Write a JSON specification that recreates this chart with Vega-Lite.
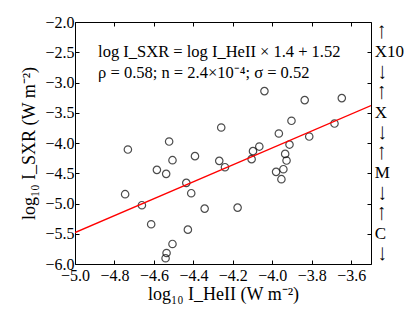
{
  "$schema": "https://vega.github.io/schema/vega-lite/v6.json",
  "width": 296,
  "height": 242,
  "autosize": {"type": "none"},
  "padding": {"left": 75, "top": 22, "right": 44, "bottom": 55},
  "background": "white",
  "config": {
    "view": {"stroke": "black", "strokeWidth": 1},
    "font": "Liberation Serif",
    "axis": {
      "domain": false,
      "grid": false,
      "tickColor": "black",
      "tickSize": -4,
      "tickWidth": 1,
      "labelOverlap": false,
      "labelFlush": false,
      "labelFont": "Liberation Serif",
      "labelFontSize": 16,
      "labelColor": "black",
      "titleFont": "Liberation Serif",
      "titleFontSize": 18,
      "titleFontWeight": "normal",
      "titleColor": "black"
    }
  },
  "datasets": {
    "pts": [
      {"x": -4.732, "y": -4.108}, {"x": -4.523, "y": -3.976}, {"x": -4.259, "y": -3.744},
      {"x": -4.506, "y": -4.284}, {"x": -4.392, "y": -4.217}, {"x": -4.269, "y": -4.295},
      {"x": -4.585, "y": -4.444}, {"x": -4.538, "y": -4.510}, {"x": -4.436, "y": -4.659},
      {"x": -4.746, "y": -4.846}, {"x": -4.411, "y": -4.830}, {"x": -4.661, "y": -5.028},
      {"x": -4.343, "y": -5.084}, {"x": -4.614, "y": -5.343}, {"x": -4.428, "y": -5.432},
      {"x": -4.506, "y": -5.669}, {"x": -4.536, "y": -5.818}, {"x": -4.541, "y": -5.905},
      {"x": -4.040, "y": -3.142}, {"x": -3.836, "y": -3.291}, {"x": -3.648, "y": -3.258},
      {"x": -3.903, "y": -3.633}, {"x": -3.967, "y": -3.843}, {"x": -3.685, "y": -3.678},
      {"x": -3.813, "y": -3.893}, {"x": -3.913, "y": -4.026}, {"x": -4.066, "y": -4.059},
      {"x": -4.098, "y": -4.135}, {"x": -3.935, "y": -4.180}, {"x": -3.928, "y": -4.290},
      {"x": -4.105, "y": -4.267}, {"x": -4.240, "y": -4.400}, {"x": -3.944, "y": -4.433},
      {"x": -3.981, "y": -4.477}, {"x": -3.954, "y": -4.598}, {"x": -4.176, "y": -5.068}
    ],
    "fit": [{"x": -5.0, "y": -5.48}, {"x": -3.5, "y": -3.38}],
    "classes": [
      {"cls": "X10", "y": -2.5}, {"cls": "X", "y": -3.5},
      {"cls": "M", "y": -4.5}, {"cls": "C", "y": -5.5}
    ]
  },
  "layer": [
    {
      "data": {"name": "pts"},
      "mark": {"type": "point", "shape": "circle", "filled": false, "stroke": "black", "strokeWidth": 1.2, "size": 55},
      "encoding": {
        "x": {"field": "x", "type": "quantitative",
          "scale": {"domain": [-5, -3.5], "nice": false, "zero": false},
          "axis": {"orient": "bottom", "values": [-5, -4.8, -4.6, -4.4, -4.2, -4.0, -3.8, -3.6], "format": ".1f", "labelPadding": 7, "title": "log₁₀ I_HeII (W m⁻²)", "titlePadding": 2}},
        "y": {"field": "y", "type": "quantitative",
          "scale": {"domain": [-6, -2], "nice": false, "zero": false},
          "axis": {"orient": "left", "values": [-6, -5.5, -5, -4.5, -4, -3.5, -3, -2.5, -2], "format": ".1f", "labelPadding": 5, "title": "log₁₀ I_SXR (W m⁻²)", "titlePadding": 6}}
      }
    },
    {
      "data": {"name": "fit"},
      "mark": {"type": "line", "color": "red", "strokeWidth": 1.3, "clip": true},
      "encoding": {
        "x": {"field": "x", "type": "quantitative",
          "scale": {"domain": [-5, -3.5], "nice": false, "zero": false},
          "axis": {"orient": "top", "values": [-5, -4.8, -4.6, -4.4, -4.2, -4.0, -3.8, -3.6], "labels": false, "title": null}},
        "y": {"field": "y", "type": "quantitative",
          "scale": {"domain": [-6, -2], "nice": false, "zero": false},
          "axis": {"orient": "right", "values": [-6, -5.5, -5, -4.5, -4, -3.5, -3, -2.5, -2], "labels": false, "title": null}}
      }
    },
    {
      "data": {"values": [{}]},
      "mark": {"type": "text", "align": "left", "baseline": "middle", "fontSize": 16.5, "lineHeight": 21, "color": "black",
        "text": ["log I_SXR = log I_HeII × 1.4 + 1.52", "ρ = 0.58; n = 2.4×10⁻⁴; σ = 0.52"]},
      "encoding": {
        "x": {"datum": -4.883, "type": "quantitative", "scale": {"domain": [-5, -3.5], "nice": false, "zero": false}, "axis": null},
        "y": {"datum": -2.49, "type": "quantitative", "scale": {"domain": [-6, -2], "nice": false, "zero": false}, "axis": null}
      }
    },
    {
      "data": {"name": "classes"},
      "mark": {"type": "text", "align": "left", "baseline": "middle", "fontSize": 17, "color": "black"},
      "encoding": {
        "x": {"datum": -3.4815, "type": "quantitative", "scale": {"domain": [-5, -3.5], "nice": false, "zero": false}, "axis": null},
        "y": {"field": "y", "type": "quantitative", "scale": {"domain": [-6, -2], "nice": false, "zero": false}, "axis": null},
        "text": {"field": "cls"}
      }
    },
    {
      "data": {"name": "classes"},
      "mark": {"type": "text", "align": "center", "baseline": "middle", "fontSize": 10, "angle": 270, "dy": 0, "dx": 20, "color": "black", "text": "⟶", "font": "DejaVu Sans"},
      "encoding": {
        "x": {"datum": -3.4434, "type": "quantitative", "scale": {"domain": [-5, -3.5], "nice": false, "zero": false}, "axis": null},
        "y": {"field": "y", "type": "quantitative", "scale": {"domain": [-6, -2], "nice": false, "zero": false}, "axis": null}
      }
    },
    {
      "data": {"name": "classes"},
      "mark": {"type": "text", "align": "center", "baseline": "middle", "fontSize": 10, "angle": 90, "dy": 0, "dx": 20, "color": "black", "text": "⟶", "font": "DejaVu Sans"},
      "encoding": {
        "x": {"datum": -3.4434, "type": "quantitative", "scale": {"domain": [-5, -3.5], "nice": false, "zero": false}, "axis": null},
        "y": {"field": "y", "type": "quantitative", "scale": {"domain": [-6, -2], "nice": false, "zero": false}, "axis": null}
      }
    }
  ],
  "resolve": {"axis": {"x": "independent", "y": "independent"}}
}
